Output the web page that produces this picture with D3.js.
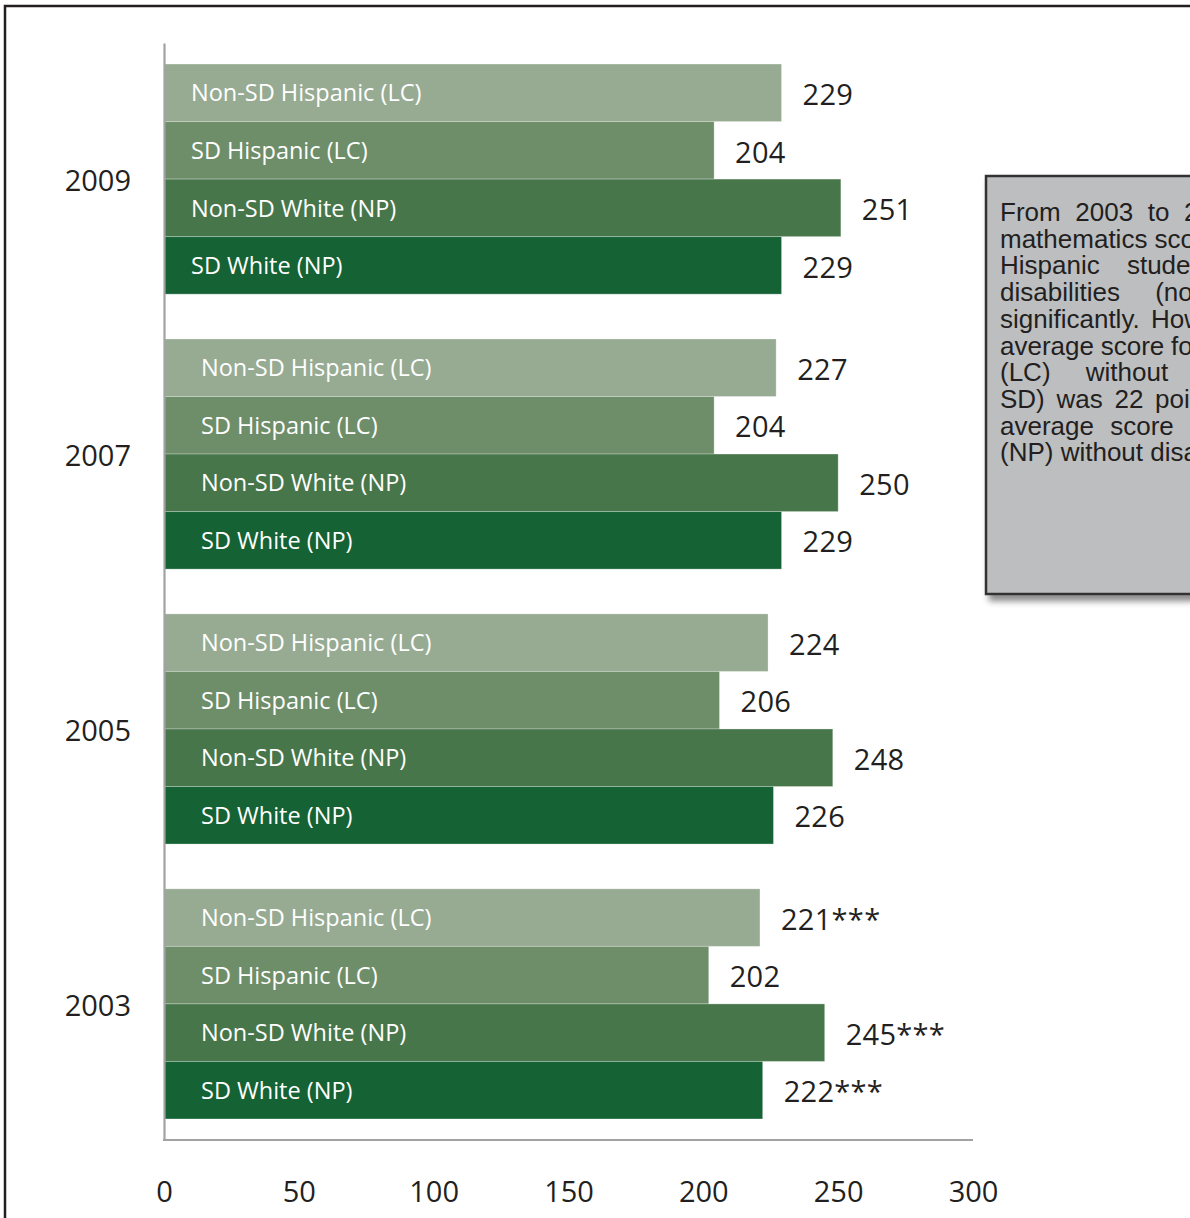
<!DOCTYPE html>
<html>
<head>
<meta charset="utf-8">
<script src="https://cdn.jsdelivr.net/npm/d3@7"></script>
<style>
  html, body { margin: 0; padding: 0; background: #fff; }
  svg { display: block; }
</style>
</head>
<body>
<svg id="chart" width="1190" height="1218"></svg>
<script>
// Average mathematics scale scores by student group and year
const years = ["2009", "2007", "2005", "2003"];
const groups = ["Non-SD Hispanic (LC)", "SD Hispanic (LC)", "Non-SD White (NP)", "SD White (NP)"];
const nonSdHispanic = [229, 227, 224, 221];
const sdHispanic = [204, 204, 206, 202];
const nonSdWhite = [251, 250, 248, 245];
const sdWhite = [229, 229, 226, 222];
// significance markers printed after the score
const nonSdHispanicNote = ["", "", "", "***"];
const sdHispanicNote = ["", "", "", ""];
const nonSdWhiteNote = ["", "", "", "***"];
const sdWhiteNote = ["", "", "", "***"];
const xTicks = [0, 50, 100, 150, 200, 250, 300];

const seriesValues = [nonSdHispanic, sdHispanic, nonSdWhite, sdWhite];
const seriesNotes = [nonSdHispanicNote, sdHispanicNote, nonSdWhiteNote, sdWhiteNote];
const colors = ["#97ab93", "#6d8e69", "#48764b", "#156235"];

const rows = [];
years.forEach((yr, i) => {
  groups.forEach((g, j) => {
    rows.push({ year: yr, group: g, value: seriesValues[j][i], note: seriesNotes[j][i], color: colors[j] });
  });
});

const svg = d3.select("#chart");
const numFont = "'Open Sans', 'Noto Sans', sans-serif";
const ink = "#231f20";

// outer frame
svg.append("rect")
  .attr("x", 5).attr("y", 6).attr("width", 1400).attr("height", 1400)
  .attr("fill", "none").attr("stroke", "#231f20").attr("stroke-width", 2.5);

const x = d3.scaleLinear().domain([0, 300]).range([164, 973]);
const y0 = d3.scaleBand().domain(years).range([43, 1140]).paddingInner(0.163).paddingOuter(0.0765);
const y1 = d3.scaleBand().domain(groups).range([0, y0.bandwidth()]);

// bars
const bars = svg.append("g").selectAll("g.bar").data(rows).join("g").attr("class", "bar")
  .attr("transform", d => `translate(0,${y0(d.year) + y1(d.group)})`);

bars.append("rect")
  .attr("x", x(0))
  .attr("y", 0)
  .attr("width", d => x(d.value) - x(0))
  .attr("height", y1.bandwidth())
  .attr("fill", d => d.color)
  .attr("stroke", "rgba(255,255,255,0.28)")
  .attr("stroke-width", 1);

// group name inside each bar
bars.append("text")
  .attr("x", d => x(0) + (d.year === "2009" ? 27 : 37))
  .attr("y", y1.bandwidth() / 2)
  .attr("dy", "0.37em")
  .attr("fill", "#ffffff")
  .style("font-family", numFont)
  .style("font-size", "23.5px")
  .text(d => d.group);

// score at the end of each bar
bars.append("text")
  .attr("x", d => x(d.value) + 21)
  .attr("y", y1.bandwidth() / 2)
  .attr("dy", "0.42em")
  .attr("fill", ink)
  .style("font-family", numFont)
  .style("font-size", "29px")
  .style("letter-spacing", "0.3px")
  .text(d => d.value + d.note);

// year axis (left)
const yAxis = svg.append("g")
  .attr("transform", `translate(${x(0)},0)`)
  .call(d3.axisLeft(y0).tickSize(0).tickSizeOuter(0).tickPadding(33));
yAxis.select(".domain").attr("stroke", "#a2a2a5").attr("stroke-width", 2.2);
yAxis.selectAll("text")
  .attr("dy", "0.4em")
  .attr("fill", ink)
  .style("font-family", numFont)
  .style("font-size", "29px");

// value axis (bottom)
const xAxis = svg.append("g")
  .attr("transform", `translate(0,${y0.range()[1]})`)
  .call(d3.axisBottom(x).tickValues(xTicks).tickSize(0).tickSizeOuter(0).tickPadding(41));
xAxis.select(".domain").attr("stroke", "#a2a2a5").attr("stroke-width", 2.2)
  .attr("d", `M${x(0) - 1},0H${x(300)}`);
xAxis.selectAll("text")
  .attr("fill", ink)
  .style("font-family", numFont)
  .style("font-size", "29px");

// commentary panel
const defs = svg.append("defs");
const shadow = defs.append("filter").attr("id", "panelShadow")
  .attr("x", "-10%").attr("y", "-10%").attr("width", "130%").attr("height", "130%");
shadow.append("feDropShadow")
  .attr("dx", 4).attr("dy", 6).attr("stdDeviation", 3)
  .attr("flood-color", "#000").attr("flood-opacity", 0.45);

svg.append("rect")
  .attr("x", 986).attr("y", 176).attr("width", 450).attr("height", 418)
  .attr("fill", "#bcbec0").attr("stroke", "#333333").attr("stroke-width", 2.5)
  .attr("filter", "url(#panelShadow)");

// justified paragraph: extra word spacing per line
const panelLines = [
  { text: "From 2003 to 2009, the average", spacing: 7.4 },
  { text: "mathematics scores for SD", spacing: 0 },
  { text: "Hispanic students with", spacing: 20 },
  { text: "disabilities (non-SD) did not change", spacing: 28 },
  { text: "significantly. However, the", spacing: 4 },
  { text: "average score for Hispanic students", spacing: -0.5 },
  { text: "(LC) without disabilities (non-", spacing: 28 },
  { text: "SD) was 22 points lower than the", spacing: 4.5 },
  { text: "average score for White students", spacing: 9 },
  { text: "(NP) without disabilities.", spacing: 0 }
];

svg.append("g")
  .selectAll("text").data(panelLines).join("text")
  .attr("x", 1000)
  .attr("y", (d, i) => 221 + i * 26.7)
  .attr("fill", ink)
  .style("font-family", "'Liberation Sans', Arial, sans-serif")
  .style("font-size", "26px")
  .style("word-spacing", d => d.spacing + "px")
  .text(d => d.text);
</script>
</body>
</html>
